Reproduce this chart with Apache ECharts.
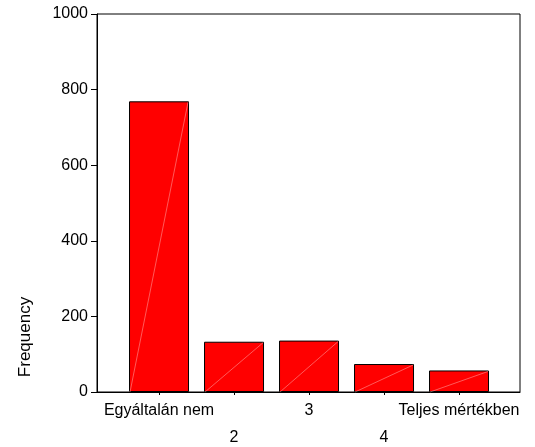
<!DOCTYPE html>
<html>
<head>
<meta charset="utf-8">
<script src="https://cdn.jsdelivr.net/npm/echarts@6/dist/echarts.min.js"></script>
<style>
  html, body { margin: 0; padding: 0; background: #fff; }
  #chart { width: 535px; height: 447px; }
</style>
</head>
<body>
<div id="chart"></div>
<script>
// Response categories (1..5) and their frequencies
const categories = ['Egyáltalán nem', '2', '3', '4', 'Teljes mértékben'];
const positions = [1, 2, 3, 4, 5];
const frequencies = [769, 133, 136, 74, 57];
const yTicks = [0, 200, 400, 600, 800, 1000];

const FONT = "'Liberation Sans', Arial, sans-serif";
const barData = positions.map((p, i) => [p, frequencies[i]]);
const BAR_W = 60;

const chart = echarts.init(document.getElementById('chart'), null, { renderer: 'canvas' });

chart.setOption({
  animation: false,
  backgroundColor: '#ffffff',
  grid: {
    left: 97, right: 15, top: 14, bottom: 55,
    outerBoundsMode: 'none',
    containLabel: false,
    show: true, borderColor: '#000', borderWidth: 1, backgroundColor: 'transparent'
  },
  xAxis: {
    type: 'value',
    min: 0.173,
    max: 5.813,
    splitLine: { show: false },
    axisLine: { show: true, lineStyle: { color: '#000', width: 1 } },
    axisTick: {
      show: true, inside: false, length: 3,
      customValues: positions,
      lineStyle: { color: '#000' }
    },
    axisLabel: {
      customValues: positions,
      margin: 5,
      color: '#000',
      fontFamily: FONT,
      fontSize: 16,
      lineHeight: 27,
      formatter: function (v) {
        const i = Math.round(v) - 1;
        const name = categories[i];
        return i % 2 === 0 ? name : '\n' + name;
      }
    }
  },
  yAxis: {
    type: 'value',
    min: yTicks[0],
    max: yTicks[yTicks.length - 1],
    interval: yTicks[1] - yTicks[0],
    splitLine: { show: false },
    axisLine: { show: true, lineStyle: { color: '#000', width: 1 } },
    axisTick: { show: true, inside: false, length: 6, lineStyle: { color: '#000' } },
    axisLabel: {
      margin: 9, color: '#000', fontFamily: FONT, fontSize: 16,
      formatter: function (v) { return String(v); }
    }
  },
  graphic: [{
    type: 'text',
    x: 25, y: 337,
    rotation: Math.PI / 2,
    style: {
      text: 'Frequency',
      fill: '#000',
      font: '17px ' + FONT,
      align: 'center',
      verticalAlign: 'middle'
    }
  }],
  series: [
    {
      type: 'bar',
      data: barData,
      barWidth: BAR_W,
      itemStyle: { color: '#ff0000', borderColor: '#000', borderWidth: 1 }
    },
    {
      // faint diagonal seam across each bar face
      type: 'custom',
      data: barData,
      silent: true,
      z: 5,
      renderItem: function (params, api) {
        const x = api.value(0), y = api.value(1);
        const base = api.coord([x, 0]);
        const top = api.coord([x, y]);
        return {
          type: 'line',
          shape: {
            x1: base[0] - BAR_W / 2 + 1, y1: base[1],
            x2: top[0] + BAR_W / 2 - 1, y2: top[1] + 1
          },
          style: { stroke: 'rgba(255,200,200,0.75)', lineWidth: 0.6 }
        };
      }
    }
  ]
});
</script>
</body>
</html>
